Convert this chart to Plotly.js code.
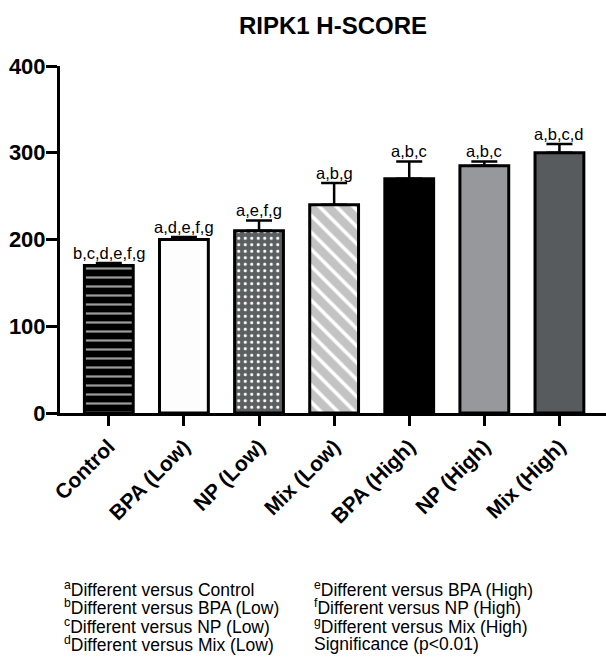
<!DOCTYPE html>
<html>
<head>
<meta charset="utf-8">
<script src="https://cdn.plot.ly/plotly-3.0.1.min.js"></script>
<style>html,body{margin:0;padding:0;background:#fff;}#chart{width:606px;height:666px;}</style>
</head>
<body>
<div id="chart"></div>
<script>
var categories = ["Control", "BPA (Low)", "NP (Low)", "Mix (Low)", "BPA (High)", "NP (High)", "Mix (High)"];
var hscore = [170, 200, 210, 240, 270, 285, 300];
var hscoreErr = [3, 3, 12, 25, 20, 5, 10];
var sigLabels = ["b,c,d,e,f,g", "a,d,e,f,g", "a,e,f,g", "a,b,g", "a,b,c", "a,b,c", "a,b,c,d"];
var fillColors = ["#000000", "#fdfdfd", "#5b5f60", "#c2c3c2", "#000000", "#97989c", "#575b5d"];
var patternShapes = ["-", "", ".", "\\", "", "", ""];
var patternFg = ["#9a9a9a", "#ffffff", "#ffffff", "#ffffff", "#000000", "#97989c", "#575b5d"];
var patternSize = [9, 8, 6.5, 12, 8, 8, 8];
var patternSolidity = [0.25, 0.3, 0.18, 0.3, 0.3, 0.3, 0.3];
var footLeft = ["<sup>a</sup>Different versus Control", "<sup>b</sup>Different versus BPA (Low)", "<sup>c</sup>Different versus NP (Low)", "<sup>d</sup>Different versus Mix (Low)"];
var footRight = ["<sup>e</sup>Different versus BPA (High)", "<sup>f</sup>Different versus NP (High)", "<sup>g</sup>Different versus Mix (High)", "Significance (p<0.01)"];

var FONT = "Liberation Sans, Arial, Helvetica, sans-serif";

var traces = [];
for (var k = 0; k < categories.length; k++) {
  traces.push({
    type: "bar",
    x: [categories[k]],
    y: [hscore[k]],
    width: 0.65,
    marker: {
      color: fillColors[k],
      line: {color: "#000", width: 3},
      pattern: {
        shape: patternShapes[k],
        fgcolor: patternFg[k],
        fgopacity: 1,
        size: patternSize[k],
        solidity: patternSolidity[k],
        fillmode: "overlay"
      }
    },
    error_y: {
      type: "data",
      symmetric: false,
      array: [hscoreErr[k]],
      arrayminus: [0],
      color: "#000",
      thickness: 2.5,
      width: 13
    },
    hoverinfo: "none"
  });
}

var H = 666, T = 66, B = 253, L = 60, R = 0, W = 606;
var plotW = W - L - R, plotH = H - T - B;
function px2paperX(px){ return (px - L) / plotW; }
function px2paperY(py){ return 1 - (py - T) / plotH; }

var annotations = [];
for (var i = 0; i < categories.length; i++) {
  annotations.push({
    x: categories[i], y: hscore[i] + hscoreErr[i],
    xref: "x", yref: "y",
    text: sigLabels[i], showarrow: false,
    yanchor: "bottom", yshift: -1,
    font: {family: FONT, size: 16.5, color: "#000"}
  });
}
var lineY = [589, 607, 626, 644];
for (var j = 0; j < footLeft.length; j++) {
  annotations.push({
    x: px2paperX(63), y: px2paperY(lineY[j]), xref: "paper", yref: "paper",
    text: footLeft[j], showarrow: false, xanchor: "left", yanchor: "middle", align: "left",
    borderpad: 0,
    font: {family: FONT, size: 17.5, color: "#000"}
  });
  annotations.push({
    x: px2paperX(313), y: px2paperY(lineY[j]), xref: "paper", yref: "paper",
    text: footRight[j], showarrow: false, xanchor: "left", yanchor: "middle", align: "left",
    borderpad: 0,
    font: {family: FONT, size: 17.5, color: "#000"}
  });
}

var layout = {
  width: W, height: H,
  margin: {l: L, r: R, t: T, b: B, pad: 0},
  paper_bgcolor: "#fff", plot_bgcolor: "#fff",
  showlegend: false,
  barmode: "overlay",
  title: {
    text: "RIPK1 H-SCORE",
    font: {family: FONT, size: 24, color: "#000", weight: 700},
    x: 0.5, xref: "paper", y: 1 - 26 / H, yanchor: "middle"
  },
  xaxis: {
    type: "category",
    categoryorder: "array", categoryarray: categories,
    range: [-0.65, 6.62],
    showline: true, linecolor: "#000", linewidth: 3,
    ticks: "outside", ticklen: 10, tickwidth: 3, tickcolor: "#000",
    tickangle: -45,
    tickfont: {family: FONT, size: 21, color: "#000", weight: 700},
    showgrid: false, zeroline: false, fixedrange: true
  },
  yaxis: {
    range: [0, 400],
    tickvals: [0, 100, 200, 300, 400],
    ticktext: ["0", "100", "200", "300", "400"],
    showline: true, linecolor: "#000", linewidth: 3,
    ticks: "outside", ticklen: 11, tickwidth: 3, tickcolor: "#000",
    ticklabelstandoff: -4,
    tickfont: {family: FONT, size: 22, color: "#000", weight: 700},
    showgrid: false, zeroline: false, fixedrange: true
  },
  annotations: annotations
};

Plotly.newPlot("chart", traces, layout, {displayModeBar: false, staticPlot: true});
</script>
</body>
</html>
